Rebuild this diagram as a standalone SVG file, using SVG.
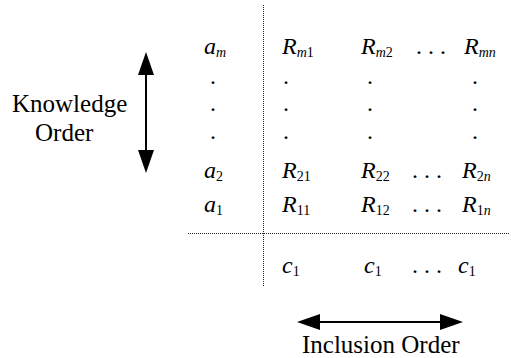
<svg xmlns="http://www.w3.org/2000/svg" width="511" height="358" viewBox="0 0 511 358" font-family="Liberation Serif, Times New Roman, serif">
<style>
.m{font-size:24px}
.i{font-style:italic}
.s{font-size:14px}
.lbl{font-size:25px}
.dot{stroke:#222;stroke-width:1;stroke-dasharray:1 1;fill:none}
.arr{stroke:#000;stroke-width:2;fill:none}
</style>
<defs>
<marker id="ah" markerUnits="userSpaceOnUse" viewBox="0 0 23 16" refX="20" refY="8" markerWidth="23" markerHeight="16" orient="auto-start-reverse">
<path d="M0,0 L23,8 L0,16 Z" fill="#000"/>
</marker>
</defs>
<rect width="511" height="358" fill="#fff"/>
<g id="connectors">
<line class="dot" x1="263.5" y1="5" x2="263.5" y2="287"/>
<line class="dot" x1="188" y1="233.5" x2="510" y2="233.5"/>
<line id="knowledge-arrow" class="arr" x1="146" y1="55" x2="146" y2="170" marker-start="url(#ah)" marker-end="url(#ah)"/>
<line id="inclusion-arrow" class="arr" x1="300" y1="322" x2="460" y2="322" marker-start="url(#ah)" marker-end="url(#ah)"/>
</g>
<g id="knowledge-label">
<text class="lbl" x="12" y="112">Knowledge</text>
<text class="lbl" x="35" y="141">Order</text>
</g>
<g id="inclusion-label">
<text class="lbl" x="302" y="353">Inclusion Order</text>
</g>
<g id="row-m" class="m">
<text x="204" y="54"><tspan class="i">a</tspan><tspan class="s i" dy="3">m</tspan></text>
<text x="282" y="54"><tspan class="i">R</tspan><tspan class="s i" dy="3">m</tspan><tspan class="s">1</tspan></text>
<text x="361" y="54"><tspan class="i">R</tspan><tspan class="s i" dy="3">m</tspan><tspan class="s">2</tspan></text>
<text x="416" y="54">. . .</text>
<text x="464" y="54"><tspan class="i">R</tspan><tspan class="s i" dy="3">mn</tspan></text>
</g>
<g id="vdots" class="m">
<text x="210" y="83.5">.</text><text x="283" y="83.5">.</text><text x="367" y="83.5">.</text><text x="472" y="83.5">.</text>
<text x="210" y="111">.</text><text x="283" y="111">.</text><text x="367" y="111">.</text><text x="472" y="111">.</text>
<text x="210" y="139">.</text><text x="283" y="139">.</text><text x="367" y="139">.</text><text x="472" y="139">.</text>
</g>
<g id="row-2" class="m">
<text x="204" y="178"><tspan class="i">a</tspan><tspan class="s" dy="3">2</tspan></text>
<text x="282" y="178"><tspan class="i">R</tspan><tspan class="s" dy="3">21</tspan></text>
<text x="361" y="178"><tspan class="i">R</tspan><tspan class="s" dy="3">22</tspan></text>
<text x="412" y="178">. . .</text>
<text x="462" y="178"><tspan class="i">R</tspan><tspan class="s" dy="3">2</tspan><tspan class="s i">n</tspan></text>
</g>
<g id="row-1" class="m">
<text x="204" y="212"><tspan class="i">a</tspan><tspan class="s" dy="3">1</tspan></text>
<text x="282" y="212"><tspan class="i">R</tspan><tspan class="s" dy="3">11</tspan></text>
<text x="361" y="212"><tspan class="i">R</tspan><tspan class="s" dy="3">12</tspan></text>
<text x="412" y="212">. . .</text>
<text x="462" y="212"><tspan class="i">R</tspan><tspan class="s" dy="3">1</tspan><tspan class="s i">n</tspan></text>
</g>
<g id="row-c" class="m">
<text x="282" y="273"><tspan class="i">c</tspan><tspan class="s" dy="3">1</tspan></text>
<text x="364" y="273"><tspan class="i">c</tspan><tspan class="s" dy="3">1</tspan></text>
<text x="412" y="273">. . .</text>
<text x="458" y="273"><tspan class="i">c</tspan><tspan class="s" dy="3">1</tspan></text>
</g>
</svg>
